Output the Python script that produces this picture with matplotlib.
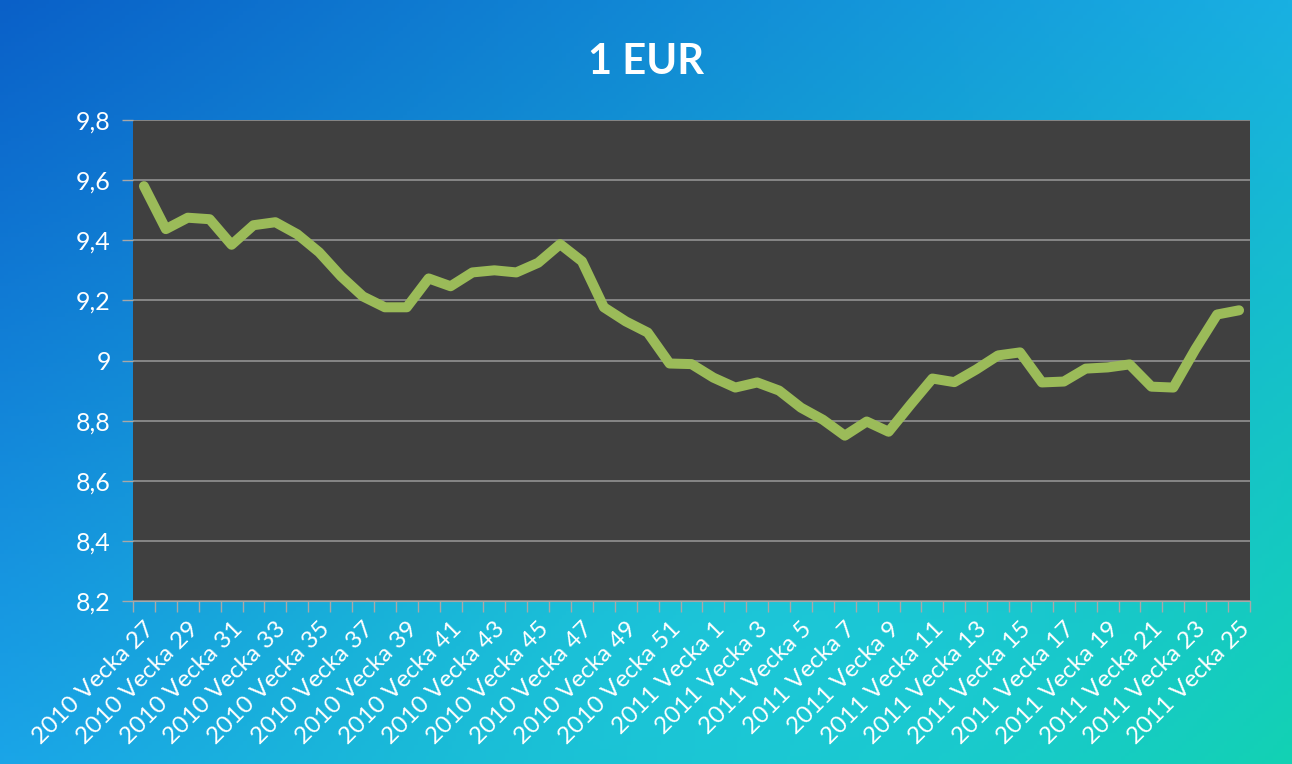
import numpy as np
import matplotlib
matplotlib.use('Agg')
import matplotlib.pyplot as plt
from matplotlib.ticker import FixedLocator, FuncFormatter

# weekly EUR rate, 2010 week 27 .. 2011 week 25
weeks_2010 = list(range(27, 53))
weeks_2011 = list(range(1, 26))
labels = ['2010 Vecka %d' % w for w in weeks_2010] + ['2011 Vecka %d' % w for w in weeks_2011]

rate = [9.58, 9.437, 9.475, 9.47, 9.385, 9.45, 9.46, 9.42, 9.36, 9.28,
        9.213, 9.177, 9.177, 9.273, 9.247, 9.293, 9.30, 9.293, 9.325, 9.387,
        9.33, 9.177, 9.13, 9.093, 8.99, 8.988, 8.943, 8.91, 8.927, 8.90,
        8.843, 8.803, 8.75, 8.797, 8.763, 8.853, 8.94, 8.928, 8.97, 9.017,
        9.027, 8.927, 8.93, 8.973, 8.977, 8.987, 8.913, 8.91, 9.037, 9.153,
        9.167]

yticks = [8.2, 8.4, 8.6, 8.8, 9.0, 9.2, 9.4, 9.6, 9.8]

plt.rcParams['font.family'] = ['Lato', 'DejaVu Sans']

fig = plt.figure(figsize=(12.92, 7.64), dpi=100)

# gradient background (blue top-left -> cyan -> teal bottom-right)
tl = np.array([10, 96, 200]) / 255
tr = np.array([25, 176, 226]) / 255
bl = np.array([26, 164, 232]) / 255
br = np.array([16, 210, 172]) / 255
cy = np.array([34, 208, 226]) / 255
h, w = 200, 340
u = np.linspace(0, 1, w)[None, :, None]
v = np.linspace(0, 1, h)[:, None, None]
grad = (1 - u) * (1 - v) * tl + u * (1 - v) * tr + (1 - u) * v * bl + u * v * br
# cyan glow towards the lower middle
wgt = np.exp(-(((u - 0.6) / 0.35) ** 2 + ((v - 0.85) / 0.35) ** 2)) * 0.6
grad = grad * (1 - wgt) + cy * wgt
bg = fig.add_axes([0, 0, 1, 1])
bg.imshow(np.clip(grad, 0, 1), aspect='auto', extent=[0, 1, 0, 1])
bg.axis('off')

ax = fig.add_axes([133 / 1292, 1 - 601 / 764, (1250 - 133) / 1292, (601 - 120) / 764])
ax.set_facecolor('#404040')

x = np.arange(len(rate))
ax.plot(x, rate, color='#9bbb59', lw=7.2, solid_capstyle='round', solid_joinstyle='round', zorder=3)

ax.set_xlim(-0.5, len(rate) - 0.5)
ax.set_ylim(8.2, 9.8)

ax.set_yticks(yticks)
ax.yaxis.set_major_formatter(FuncFormatter(lambda v, p: ('%g' % round(v, 1)).replace('.', ',')))
ax.grid(axis='y', color='#9a9a9a', lw=1.1)
ax.set_axisbelow(True)

ax.set_xticks(x[::2])
ax.set_xticklabels(labels[::2], rotation=45, ha='right', va='top', rotation_mode='anchor')
ax.xaxis.set_minor_locator(FixedLocator(np.arange(-0.5, len(rate), 1.0)))

ax.tick_params(axis='x', which='major', length=0, pad=12, labelsize=17.5, labelcolor='white')
ax.tick_params(axis='x', which='minor', length=8, color='#a8a8a8', width=1)
ax.tick_params(axis='y', length=8, color='#a8a8a8', width=1, pad=8, labelsize=18, labelcolor='white')

for s in ['top', 'right', 'left']:
    ax.spines[s].set_visible(False)
ax.spines['bottom'].set_color('#a8a8a8')

fig.text(0.5, 1 - 62 / 764, '1 EUR', ha='center', va='center', color='white',
         fontsize=30, fontweight='bold')

fig.savefig('out.png', dpi=100)
